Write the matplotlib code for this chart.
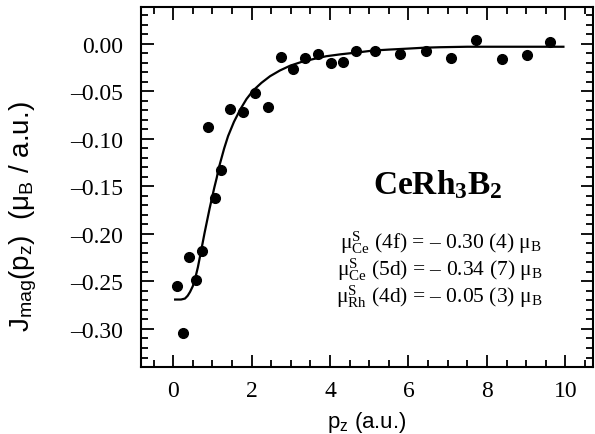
import numpy as np
import matplotlib.pyplot as plt
from matplotlib.ticker import MultipleLocator

plt.rcParams['mathtext.fontset'] = 'custom'
plt.rcParams['mathtext.rm'] = 'Liberation Serif'
plt.rcParams['mathtext.it'] = 'Liberation Serif:italic'
plt.rcParams['mathtext.bf'] = 'Liberation Serif:bold'
plt.rcParams['mathtext.sf'] = 'Liberation Sans'

# measured points
pz = [0.10, 0.26, 0.41, 0.59, 0.74, 0.89, 1.07, 1.22, 1.45, 1.79, 2.09, 2.42, 2.76,
      3.06, 3.37, 3.70, 4.03, 4.34, 4.67, 5.15, 5.79, 6.45, 7.09, 7.73, 8.39, 9.03, 9.62]
jmag = [-0.255, -0.304, -0.224, -0.248, -0.218, -0.087, -0.162, -0.133, -0.069, -0.072,
        -0.052, -0.066, -0.014, -0.026, -0.015, -0.011, -0.020, -0.019, -0.007, -0.007,
        -0.011, -0.007, -0.015, 0.004, -0.016, -0.012, 0.002]

# fit curve
fit_x = [0.05, 0.20, 0.30, 0.37, 0.43, 0.50, 0.56, 0.63, 0.73, 0.80, 0.87, 0.93, 0.99,
         1.05, 1.11, 1.16, 1.22, 1.30, 1.40, 1.55, 1.71, 1.87, 2.04, 2.25, 2.47, 2.72,
         2.98, 3.27, 3.57, 3.90, 4.26, 4.70, 5.10, 5.50, 5.97, 6.40, 6.81, 7.50, 8.34, 9.95]
fit_y = [-0.269, -0.269, -0.268, -0.265, -0.261, -0.255, -0.247, -0.235, -0.214, -0.199,
         -0.185, -0.173, -0.162, -0.151, -0.141, -0.131, -0.122, -0.110, -0.097, -0.082,
         -0.069, -0.058, -0.049, -0.041, -0.034, -0.028, -0.023, -0.019, -0.016, -0.013,
         -0.011, -0.009, -0.007, -0.006, -0.005, -0.004, -0.0035, -0.003, -0.003, -0.003]

moments = [r'$\mathrm{\mu^{S}_{Ce}}$ (4f) = – 0.30 (4) $\mathrm{\mu_{B}}$',
           r'$\mathrm{\mu^{S}_{Ce}}$ (5d) = – 0.34 (7) $\mathrm{\mu_{B}}$',
           r'$\mathrm{\mu^{S}_{Rh}}$ (4d) = – 0.05 (3) $\mathrm{\mu_{B}}$']
yticks = [0.00, -0.05, -0.10, -0.15, -0.20, -0.25, -0.30]

fig = plt.figure(figsize=(5.95, 4.35), dpi=100)
ax = fig.add_axes([0.237, 0.154, 0.76, 0.828])

ax.plot(fit_x, fit_y, color='black', lw=1.6)
ax.plot(pz, jmag, 'o', color='black', ms=7)

ax.set_xlim(-0.82, 10.71)
ax.set_ylim(-0.34, 0.039)
ax.xaxis.set_major_locator(MultipleLocator(2))
ax.xaxis.set_minor_locator(MultipleLocator(0.5))
ax.set_yticks(yticks)
ax.set_yticklabels(['%.2f' % v if v == 0 else '–%.2f' % abs(v) for v in yticks])
ax.yaxis.set_minor_locator(MultipleLocator(0.01))
ax.tick_params(which='both', direction='in', top=True, right=True, width=1.3)
ax.tick_params(which='major', length=9)
ax.tick_params(which='minor', length=5)
ax.tick_params(axis='y', pad=13)
ax.tick_params(axis='x', pad=9)
for lab in ax.get_xticklabels() + ax.get_yticklabels():
    lab.set_fontfamily('Liberation Serif')
    lab.set_fontsize(17)
for s in ax.spines.values():
    s.set_linewidth(1.5)

ax.set_xlabel(r'p$_\mathsf{z}$ (a.u.)', fontfamily='Liberation Sans', fontsize=16, labelpad=6)
ax.set_ylabel(r'J$_\mathsf{mag}$(p$_\mathsf{z}$)  ($\mathsf{\mu_B}$ / a.u.)',
              fontfamily='Liberation Sans', fontsize=20)
ax.yaxis.set_label_coords(-0.226, 0.42)

ax.text(6.76, -0.147, r'$\mathbf{CeRh_3B_2}$', fontsize=24, ha='center', va='center')
for i, t in enumerate(moments):
    ax.text(9.41, -0.208 - 0.0285 * i, t, fontsize=15.5, ha='right', va='center',
            fontfamily='Liberation Serif')

fig.savefig('out.png', dpi=100)
